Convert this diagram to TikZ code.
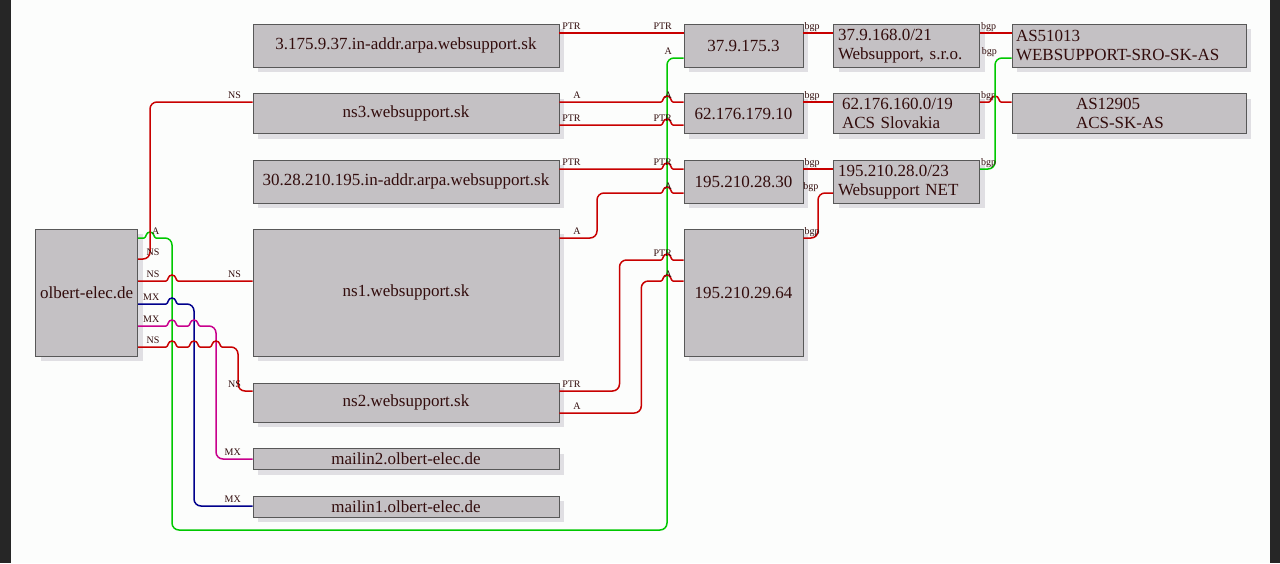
\documentclass[tikz,border=0pt]{standalone}
\usepackage{fontspec}
\setmainfont{Liberation Serif}
\usetikzlibrary{shadows}

\definecolor{darkbg}{RGB}{38,38,38}
\definecolor{paper}{RGB}{252,253,252}
\definecolor{boxfill}{RGB}{196,193,196}
\definecolor{boxline}{RGB}{88,88,88}
\definecolor{shade}{RGB}{224,223,227}
\definecolor{ink}{RGB}{50,12,12}
\definecolor{rrred}{RGB}{200,0,0}
\definecolor{nsgreen}{RGB}{0,200,0}
\definecolor{mxblue}{RGB}{0,0,140}
\definecolor{mxpink}{RGB}{200,0,140}

% little bump where a line jumps over another one
\newcommand{\hopover}[2]{[sharp corners] -- (#1-6,#2) .. controls (#1-3.5,#2) and (#1-4.5,#2-6) .. (#1,#2-6)
    .. controls (#1+4.5,#2-6) and (#1+3.5,#2) .. (#1+6,#2) -- (#1+7,#2) [rounded corners=7pt]}

\begin{document}
\begin{tikzpicture}[x=1pt, y=-1pt,
    box/.style={draw=boxline, fill=boxfill, line width=0.8pt, inner sep=0pt, text=ink,
        font=\fontsize{17}{19}\selectfont,
        drop shadow={shadow xshift=5pt, shadow yshift=-5pt, fill=shade, opacity=1}},
    colL/.style={box, minimum width=306pt},
    colR/.style={box, minimum width=119pt},
    colN/.style={box, minimum width=146pt, text width=137pt, align=left},
    colS/.style={box, minimum width=234pt, align=left},
    rec/.style={line width=1.5pt, rounded corners=7pt},
    lbl/.style={anchor=base east, inner sep=0pt, yshift=4pt, text=ink, font=\fontsize{10}{10}\selectfont},
    tl/.style={lbl, xshift=22pt},
    hl/.style={lbl, xshift=-11pt},
    bt/.style={lbl, xshift=17pt},
    bh/.style={lbl, xshift=-14pt}]

    % page
    \fill[darkbg] (0,0) rectangle (1280,563);
    \fill[paper] (11,0) rectangle (1270,563);

    % domain and its names
    \node[box, minimum width=102pt, minimum height=127pt] (dom) at (86.7,292.8) {olbert-elec.de};
    \node[colL, minimum height=43pt] (ptrA) at (406,45.8) {3.175.9.37.in-addr.arpa.websupport.sk};
    \node[colL, minimum height=40pt] (ns3) at (406,113.5) {ns3.websupport.sk};
    \node[colL, minimum height=43pt] (ptrB) at (406,181.8) {30.28.210.195.in-addr.arpa.websupport.sk};
    \node[colL, minimum height=127pt] (ns1) at (406,292.8) {ns1.websupport.sk};
    \node[colL, minimum height=39pt] (ns2) at (406,402.8) {ns2.websupport.sk};
    \node[colL, minimum height=21pt] (mx2) at (406,459.2) {mailin2.olbert-elec.de};
    \node[colL, minimum height=21pt] (mx1) at (406,506.8) {mailin1.olbert-elec.de};

    % addresses
    \node[colR, minimum height=43pt] (ipA) at (743.5,45.8) {37.9.175.3};
    \node[colR, minimum height=40pt] (ipB) at (743.5,113.5) {62.176.179.10};
    \node[colR, minimum height=43pt] (ipC) at (743.5,181.8) {195.210.28.30};
    \node[colR, minimum height=127pt] (ipD) at (743.5,292.8) {195.210.29.64};

    % networks and AS
    \node[colN, minimum height=43pt] (netA) at (906.5,45.8) {37.9.168.0/21\\Websupport, s.r.o.};
    \node[colN, minimum height=40pt] (netB) at (906.5,113.5) {\hspace*{4pt}62.176.160.0/19\\\hspace*{4pt}ACS Slovakia};
    \node[colN, minimum height=43pt] (netC) at (906.5,181.8) {195.210.28.0/23\\Websupport NET};
    \node[colS, minimum height=43pt, text width=226pt] (asA) at (1129,45.8) {AS51013\\WEBSUPPORT-SRO-SK-AS};
    \node[colS, minimum height=40pt, text width=106pt] (asB) at (1129,113.5) {AS12905\\ACS-SK-AS};

    % records of olbert-elec.de
    \draw[rec, nsgreen] (dom.east |- 0,238) node[tl]{A} \hopover{150}{238} -- (172,238) -- (172,530)
        -- (667,530) -- (667,58) -- (ipA.west |- 0,58) node[hl]{A};
    \draw[rec, rrred] (dom.east |- 0,259) node[tl]{NS} -- (150,259) -- (150,102) -- (ns3.west |- 0,102) node[hl]{NS};
    \draw[rec, rrred] (dom.east |- 0,281) node[tl]{NS} \hopover{172}{281} -- (ns1.west |- 0,281) node[hl]{NS};
    \draw[rec, mxblue] (dom.east |- 0,304) node[tl]{MX} \hopover{172}{304} -- (194,304) -- (194,506)
        -- (mx1.west |- 0,506) node[hl]{MX};
    \draw[rec, mxpink] (dom.east |- 0,326) node[tl]{MX} \hopover{172}{326} \hopover{194}{326} -- (216,326)
        -- (216,459) -- (mx2.west |- 0,459) node[hl]{MX};
    \draw[rec, rrred] (dom.east |- 0,347) node[tl]{NS} \hopover{172}{347} \hopover{194}{347} \hopover{216}{347}
        -- (238,347) -- (238,391) -- (ns2.west |- 0,391) node[hl]{NS};

    % A and PTR records
    \draw[rec, rrred] (ptrA.east |- 0,33) node[tl]{PTR} -- (ipA.west |- 0,33) node[hl]{PTR};
    \draw[rec, rrred] (ns3.east |- 0,102) node[tl]{A} \hopover{667}{102} -- (ipB.west |- 0,102) node[hl]{A};
    \draw[rec, rrred] (ns3.east |- 0,125) node[tl]{PTR} \hopover{667}{125} -- (ipB.west |- 0,125) node[hl]{PTR};
    \draw[rec, rrred] (ptrB.east |- 0,169) node[tl]{PTR} \hopover{667}{169} -- (ipC.west |- 0,169) node[hl]{PTR};
    \draw[rec, rrred] (ns1.east |- 0,238) node[tl]{A} -- (597,238) -- (597,193) \hopover{667}{193}
        -- (ipC.west |- 0,193) node[hl]{A};
    \draw[rec, rrred] (ns2.east |- 0,391) node[tl]{PTR} -- (619.5,391) -- (619.5,260) \hopover{667}{260}
        -- (ipD.west |- 0,260) node[hl]{PTR};
    \draw[rec, rrred] (ns2.east |- 0,413) node[tl]{A} -- (641.3,413) -- (641.3,281) \hopover{667}{281}
        -- (ipD.west |- 0,281) node[hl]{A};

    % bgp
    \draw[rec, rrred] (ipA.east |- 0,33) node[bt]{bgp} -- (netA.west |- 0,33);
    \draw[rec, rrred] (ipB.east |- 0,102) node[bt]{bgp} -- (netB.west |- 0,102);
    \draw[rec, rrred] (ipC.east |- 0,169) node[bt]{bgp} -- (netC.west |- 0,169);
    \draw[rec, rrred] (ipD.east |- 0,238) node[bt]{bgp} -- (818,238) -- (818,193) -- (netC.west |- 0,193) node[bh]{bgp};
    \draw[rec, rrred] (netA.east |- 0,33) node[bt]{bgp} -- (asA.west |- 0,33);
    \draw[rec, rrred] (netB.east |- 0,102) node[bt]{bgp} \hopover{995}{102} -- (asB.west |- 0,102);
    \draw[rec, nsgreen] (netC.east |- 0,169) node[bt]{bgp} -- (995,169) -- (995,58) -- (asA.west |- 0,58) node[bh]{bgp};
\end{tikzpicture}
\end{document}
